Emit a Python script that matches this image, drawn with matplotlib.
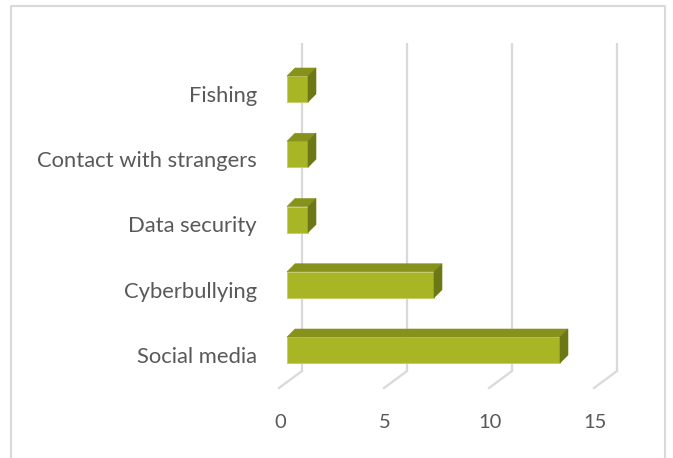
import matplotlib
matplotlib.use("Agg")
import matplotlib.pyplot as plt
from matplotlib.patches import Polygon
from matplotlib.lines import Line2D

categories = ["Fishing", "Contact with strangers", "Data security", "Cyberbullying", "Social media"]
values = [1, 1, 1, 7, 13]
xticks = [0, 5, 10, 15]

W, H = 673, 458
fig = plt.figure(figsize=(W / 100, H / 100), dpi=100)
ax = fig.add_axes([0, 0, 1, 1])
ax.set_axis_off()

# pixel mapping
x0_px, px_per_unit = 287, 21.0
y0_px, px_per_cat = 89, 65.25
ax.set_xlim(-x0_px / px_per_unit, (W - x0_px) / px_per_unit)
ax.set_ylim((H - y0_px) / px_per_cat, -y0_px / px_per_cat)

def ux(px):
    return px / px_per_unit

def uy(px):
    return px / px_per_cat

front = "#A8B525"
top = "#86921C"
side = "#6C7816"
grid = "#D9D9D9"
txt = "#595959"
font = "Lato"

# gridlines (back wall) and floor diagonals
back_dx = ux(15)
for v in xticks:
    gx = v + back_dx
    ax.plot([gx, gx], [uy(43 - y0_px), uy(371 - y0_px)], color=grid, lw=1.6, zorder=1,
            solid_capstyle="butt")
    ax.plot([gx, v - ux(8)], [uy(371 - y0_px), uy(388 - y0_px)], color=grid, lw=1.6, zorder=1)
    ax.text(v - ux(7), uy(423 - y0_px), str(v), ha="center", va="center",
            fontsize=14.5, color=txt, family=font)

# 3D bars
h = uy(26)
dx, dy = ux(8), -uy(8)
for i, (c, v) in enumerate(zip(categories, values)):
    y = i
    ax.barh(y, v, height=h, left=0, color=front, edgecolor="#C4CD6A", lw=0.6, zorder=3)
    yt = y - h / 2
    yb = y + h / 2
    ax.add_patch(Polygon([(0, yt), (v, yt), (v + dx, yt + dy), (dx, yt + dy)],
                         closed=True, facecolor=top, edgecolor=top, lw=0.4, zorder=3))
    ax.add_patch(Polygon([(v, yt), (v, yb), (v + dx, yb + dy), (v + dx, yt + dy)],
                         closed=True, facecolor=side, edgecolor=side, lw=0.4, zorder=3))
    ax.text(ux(257 - x0_px), y + uy(7), c, ha="right", va="center",
            fontsize=15.8, color=txt, family=font)

# outer frame
fx0, fx1, fy0 = 10.5 / W, 665 / W, 1 - 6 / H
fig.add_artist(Line2D([fx0, fx0, fx1, fx1], [0, fy0, fy0, 0], color="#D9D9D9", lw=1.5,
                      transform=fig.transFigure))

fig.savefig("out.png", dpi=100)
